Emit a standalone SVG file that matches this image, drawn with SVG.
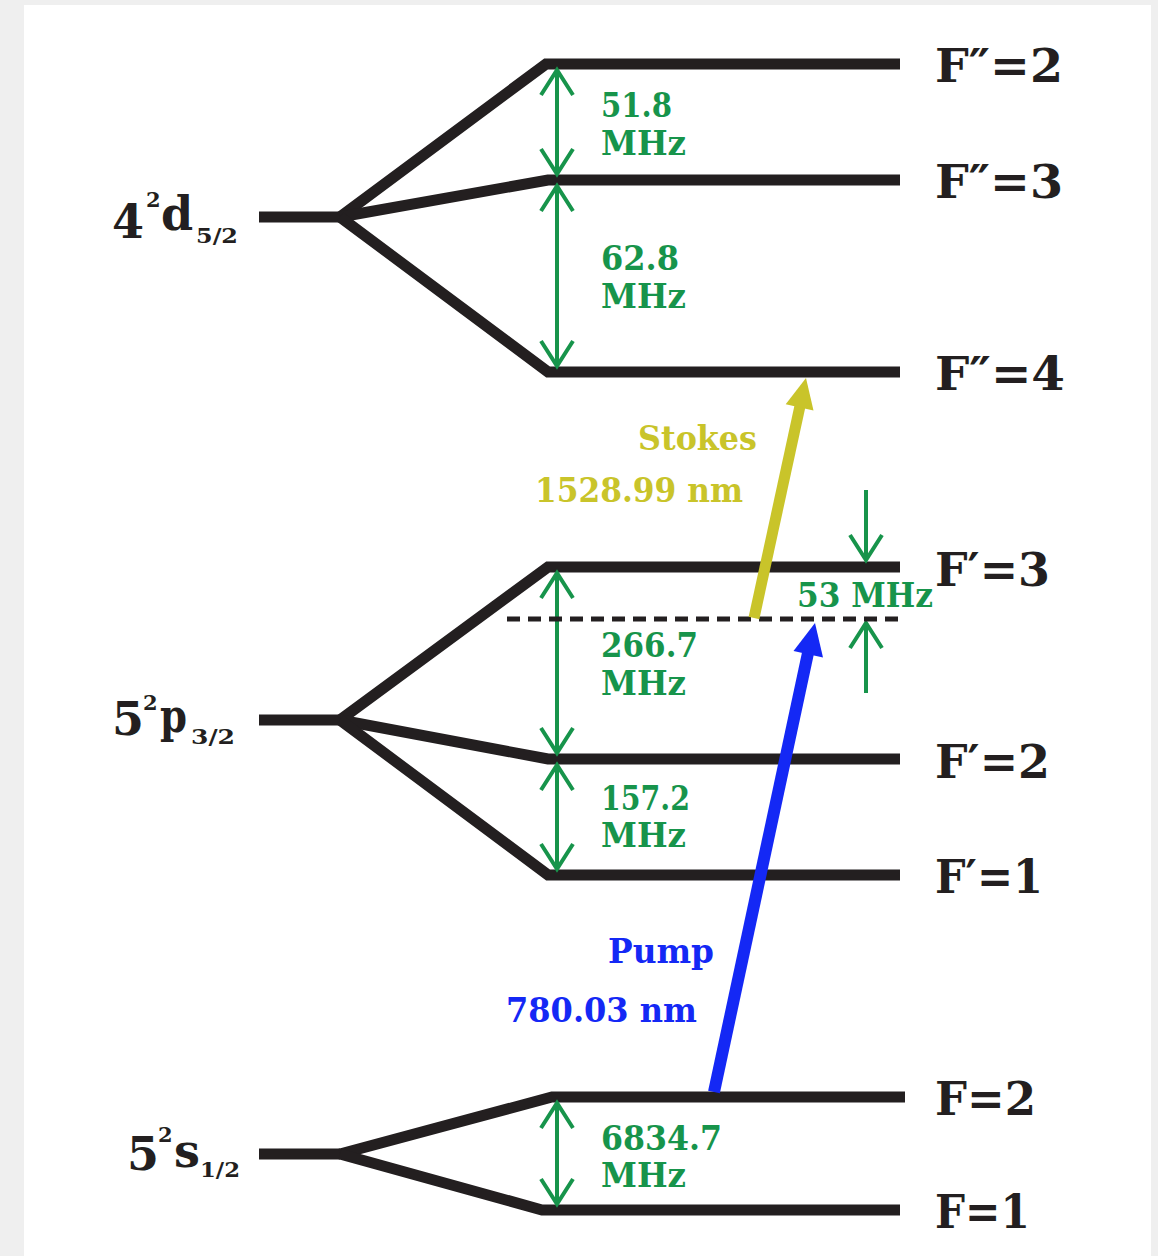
<svg xmlns="http://www.w3.org/2000/svg" width="1158" height="1256" viewBox="0 0 1158 1256">
<style>
.lvl{fill:none;stroke:#231f20;stroke-width:11;stroke-linejoin:miter}
.gr{fill:none;stroke:#17944b;stroke-width:4}
.t{font-family:"DejaVu Serif","Liberation Serif",serif;font-weight:bold}
.blk{fill:#231f20}
.big{font-size:46px}
.sm{font-size:21px}
.g{fill:#17944b;font-size:34px}
.y{fill:#c9c42a;font-size:34px}
.b{fill:#1428f5;font-size:34px}
</style>
<defs>
<marker id="v" markerUnits="userSpaceOnUse" viewBox="-30 -20 34 40" markerWidth="34" markerHeight="40" refX="0" refY="0" orient="auto-start-reverse" overflow="visible">
<path d="M-25,-16 L0,0 L-25,16" fill="none" stroke="#17944b" stroke-width="4" stroke-linejoin="miter"/>
</marker>
</defs>
<rect x="0" y="0" width="1158" height="1256" fill="#efefef"/>
<rect x="24" y="5" width="1127" height="1251" fill="#ffffff"/>

<g id="level-4d">
<path class="lvl" d="M259,217 L340,217"/>
<path class="lvl" d="M340,217 L546,64 L900,64"/>
<path class="lvl" d="M340,217 L548,180 L900,180"/>
<path class="lvl" d="M340,217 L548,372 L900,372"/>
<text class="t blk big" x="112" y="238">4</text>
<text class="t blk sm" x="146" y="207">2</text>
<text class="t blk big" x="161" y="230">d</text>
<text class="t blk sm" x="196" y="243" textLength="42" lengthAdjust="spacingAndGlyphs">5/2</text>
<text class="t blk big" x="935" y="82" textLength="128" lengthAdjust="spacingAndGlyphs">F″=2</text>
<text class="t blk big" x="935" y="198" textLength="128" lengthAdjust="spacingAndGlyphs">F″=3</text>
<text class="t blk big" x="935" y="390" textLength="130" lengthAdjust="spacingAndGlyphs">F″=4</text>
</g>

<g id="level-5p">
<path class="lvl" d="M259,720 L340,720"/>
<path class="lvl" d="M340,720 L548,567 L900,567"/>
<path class="lvl" d="M340,720 L548,759 L900,759"/>
<path class="lvl" d="M340,720 L548,875 L900,875"/>
<text class="t blk big" x="112" y="735">5</text>
<text class="t blk sm" x="143" y="710">2</text>
<text class="t blk big" x="160" y="732" textLength="27" lengthAdjust="spacingAndGlyphs">p</text>
<text class="t blk sm" x="191" y="744" textLength="44" lengthAdjust="spacingAndGlyphs">3/2</text>
<text class="t blk big" x="935" y="586" textLength="115" lengthAdjust="spacingAndGlyphs">F′=3</text>
<text class="t blk big" x="935" y="778" textLength="115" lengthAdjust="spacingAndGlyphs">F′=2</text>
<text class="t blk big" x="935" y="893" textLength="108" lengthAdjust="spacingAndGlyphs">F′=1</text>
</g>

<g id="level-5s">
<path class="lvl" d="M259,1154 L340,1154"/>
<path class="lvl" d="M340,1154 L552,1097 L905,1097"/>
<path class="lvl" d="M340,1154 L542,1210 L900,1210"/>
<text class="t blk big" x="127" y="1170">5</text>
<text class="t blk sm" x="158" y="1142">2</text>
<text class="t blk big" x="174" y="1167">s</text>
<text class="t blk sm" x="200" y="1177" textLength="40" lengthAdjust="spacingAndGlyphs">1/2</text>
<text class="t blk big" x="935" y="1115" textLength="101" lengthAdjust="spacingAndGlyphs">F=2</text>
<text class="t blk big" x="935" y="1228" textLength="95" lengthAdjust="spacingAndGlyphs">F=1</text>
</g>

<g id="connectors">
<line class="gr" x1="557" y1="70" x2="557" y2="174" marker-start="url(#v)" marker-end="url(#v)"/>
<line class="gr" x1="557" y1="186" x2="557" y2="366" marker-start="url(#v)" marker-end="url(#v)"/>
<line class="gr" x1="557" y1="573" x2="557" y2="753" marker-start="url(#v)" marker-end="url(#v)"/>
<line class="gr" x1="557" y1="765" x2="557" y2="869" marker-start="url(#v)" marker-end="url(#v)"/>
<line class="gr" x1="557" y1="1103" x2="557" y2="1204" marker-start="url(#v)" marker-end="url(#v)"/>
<line class="gr" x1="866" y1="490" x2="866" y2="560" marker-end="url(#v)"/>
<line class="gr" x1="866" y1="693" x2="866" y2="623" marker-end="url(#v)"/>
<line x1="507" y1="619" x2="900" y2="619" stroke="#231f20" stroke-width="5" stroke-dasharray="13 8"/>
<line x1="754" y1="618" x2="800" y2="406" stroke="#c9c42a" stroke-width="11"/>
<polygon points="806,378 813.5,410.5 785.7,404.3" fill="#c9c42a"/>
<line x1="714" y1="1092" x2="808" y2="653" stroke="#1428f5" stroke-width="12"/>
<polygon points="815,623 823,657.5 793.5,651" fill="#1428f5"/>
</g>

<g id="labels">
<text class="t g" x="601" y="117" textLength="71" lengthAdjust="spacingAndGlyphs">51.8</text>
<text class="t g" x="601" y="155" textLength="85" lengthAdjust="spacingAndGlyphs">MHz</text>
<text class="t g" x="601" y="270" textLength="78" lengthAdjust="spacingAndGlyphs">62.8</text>
<text class="t g" x="601" y="308" textLength="85" lengthAdjust="spacingAndGlyphs">MHz</text>
<text class="t g" x="601" y="657" textLength="97" lengthAdjust="spacingAndGlyphs">266.7</text>
<text class="t g" x="601" y="695" textLength="85" lengthAdjust="spacingAndGlyphs">MHz</text>
<text class="t g" x="601" y="810" textLength="89" lengthAdjust="spacingAndGlyphs">157.2</text>
<text class="t g" x="601" y="847" textLength="85" lengthAdjust="spacingAndGlyphs">MHz</text>
<text class="t g" x="601" y="1150" textLength="121" lengthAdjust="spacingAndGlyphs">6834.7</text>
<text class="t g" x="601" y="1187" textLength="85" lengthAdjust="spacingAndGlyphs">MHz</text>
<text class="t g" x="797" y="607" textLength="136" lengthAdjust="spacingAndGlyphs">53 MHz</text>
<text class="t y" x="638" y="450" textLength="119" lengthAdjust="spacingAndGlyphs">Stokes</text>
<text class="t y" x="535" y="502" textLength="208" lengthAdjust="spacingAndGlyphs">1528.99 nm</text>
<text class="t b" x="608" y="963" textLength="106" lengthAdjust="spacingAndGlyphs">Pump</text>
<text class="t b" x="506" y="1022" textLength="191" lengthAdjust="spacingAndGlyphs">780.03 nm</text>
</g>
</svg>
